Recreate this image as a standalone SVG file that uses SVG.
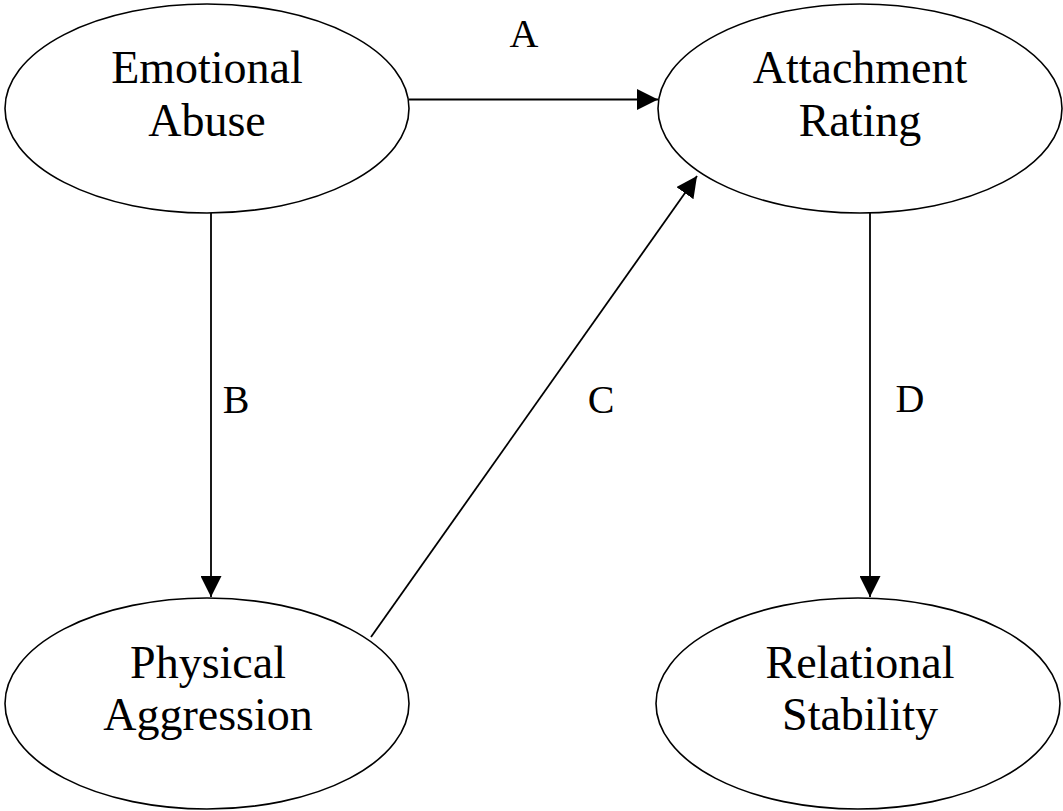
<svg xmlns="http://www.w3.org/2000/svg" width="1063" height="811" viewBox="0 0 1063 811">
  <style>
    .node { fill: #ffffff; stroke: #000000; stroke-width: 1.6; }
    .label { font-family: "Liberation Serif", "Times New Roman", serif; font-size: 46px; fill: #000000; text-anchor: middle; }
    .edge-label { font-family: "Liberation Serif", "Times New Roman", serif; font-size: 40px; fill: #000000; text-anchor: middle; }
    .edge { stroke: #000000; stroke-width: 1.8; fill: none; marker-end: url(#arrow); }
  </style>
  <defs>
    <marker id="arrow" markerWidth="21" markerHeight="21" refX="21" refY="10.5" orient="auto" markerUnits="userSpaceOnUse" viewBox="0 0 21 21">
      <path d="M0,0 L21,10.5 L0,21 Z" fill="#000000"/>
    </marker>
  </defs>
  <rect width="1063" height="811" fill="#ffffff"/>

  <!-- connectors between the four constructs -->
  <g id="connectors">
    <line class="edge" x1="409" y1="99.5" x2="658" y2="99.5"/>
    <line class="edge" x1="211" y1="213" x2="211" y2="597"/>
    <line class="edge" x1="371" y1="637" x2="697" y2="176"/>
    <line class="edge" x1="870" y1="213" x2="870" y2="597"/>
    <text class="edge-label" x="524" y="47">A</text>
    <text class="edge-label" x="236" y="413">B</text>
    <text class="edge-label" x="601" y="413">C</text>
    <text class="edge-label" x="910" y="412">D</text>
  </g>

  <g id="emotional-abuse">
    <ellipse class="node" cx="207" cy="108.5" rx="202" ry="104.5"/>
    <text class="label" x="207" y="83">Emotional</text>
    <text class="label" x="207" y="136">Abuse</text>
  </g>

  <g id="attachment-rating">
    <ellipse class="node" cx="860" cy="108.5" rx="202" ry="104.5"/>
    <text class="label" x="860" y="83">Attachment</text>
    <text class="label" x="860" y="136">Rating</text>
  </g>

  <g id="physical-aggression">
    <ellipse class="node" cx="207" cy="703.5" rx="202" ry="105.5"/>
    <text class="label" x="208" y="678">Physical</text>
    <text class="label" x="208" y="730">Aggression</text>
  </g>

  <g id="relational-stability">
    <ellipse class="node" cx="858" cy="703.5" rx="202" ry="105.5"/>
    <text class="label" x="860" y="678">Relational</text>
    <text class="label" x="860" y="730">Stability</text>
  </g>
</svg>
